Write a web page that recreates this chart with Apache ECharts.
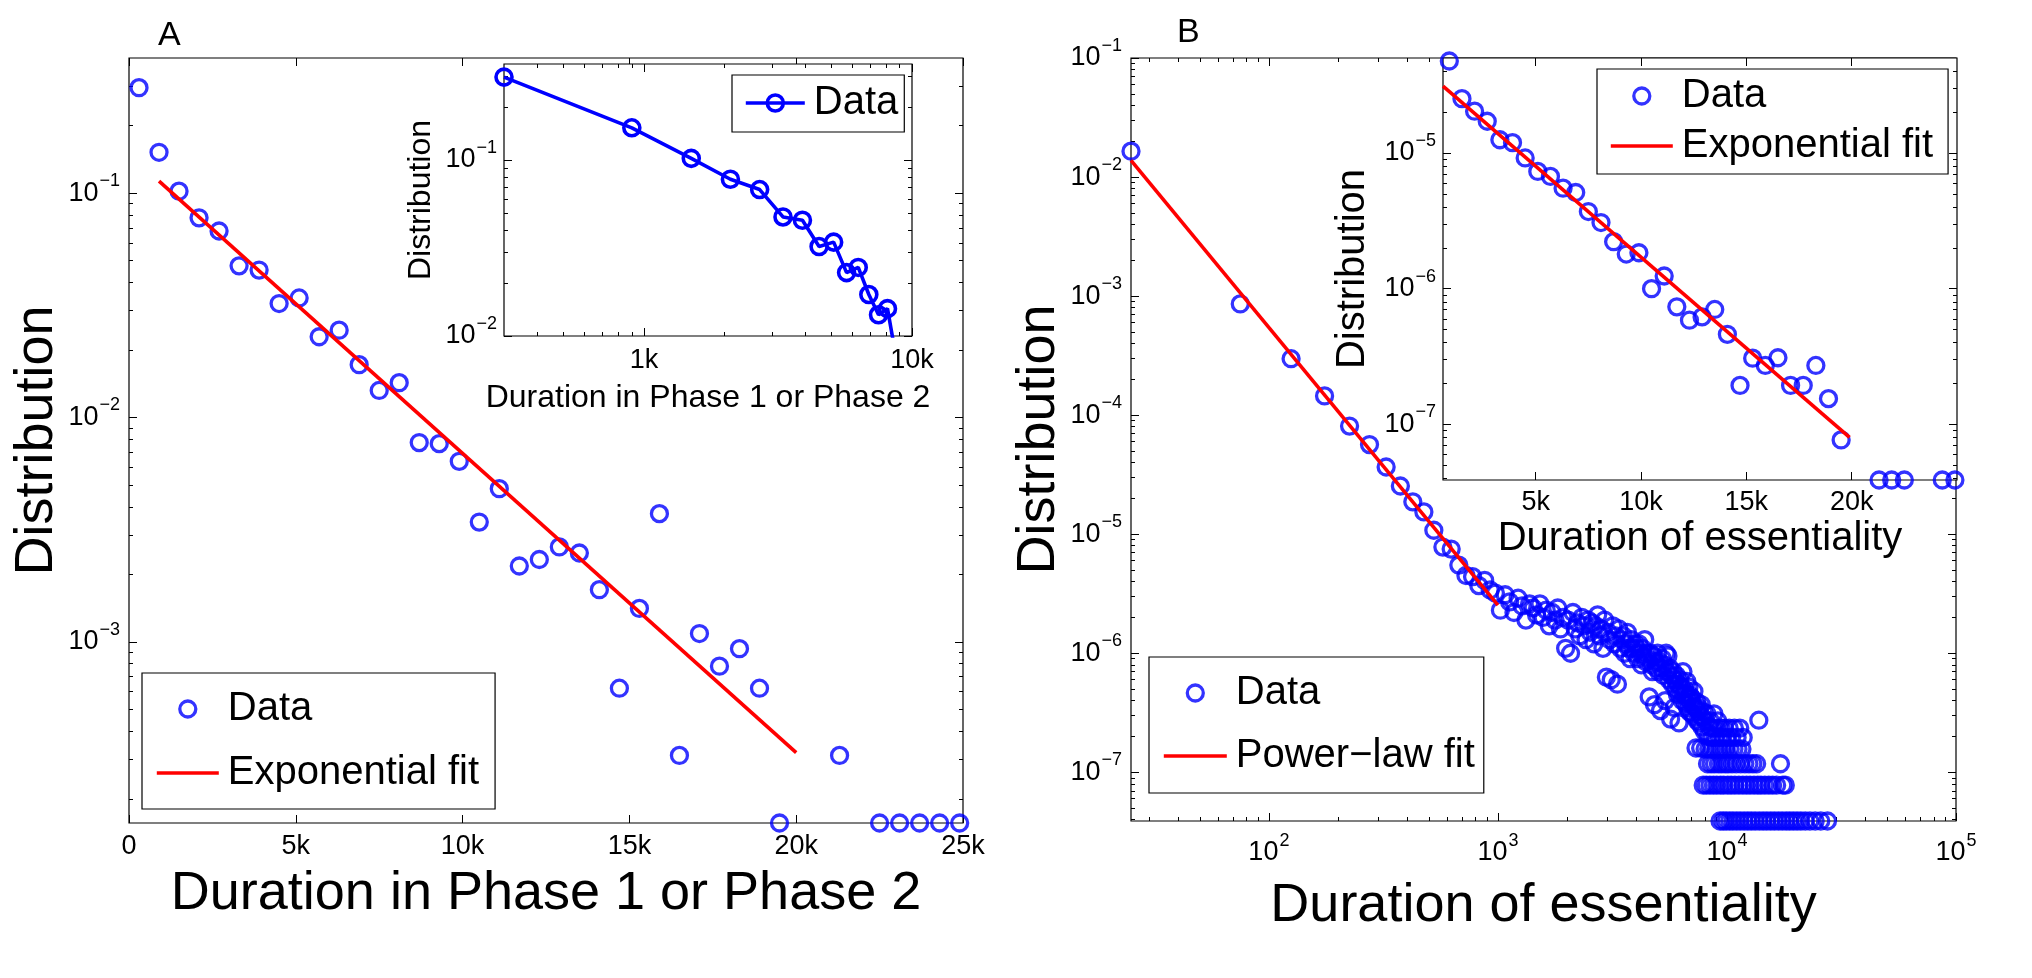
<!DOCTYPE html>
<html>
<head>
<meta charset="utf-8">
<title>Duration distributions</title>
<script src="https://cdn.jsdelivr.net/npm/echarts@6/dist/echarts.min.js"></script>
<style>
  html, body { margin: 0; padding: 0; background: #fff; }
  #chart { width: 2032px; height: 978px; }
</style>
</head>
<body>
<div id="chart"></div>
<script>
// ---- panel A: duration in Phase 1 or Phase 2 (bins of 600) ----
const aDuration = [300, 900, 1500, 2100, 2700, 3300, 3900, 4500, 5100, 5700,
  6300, 6900, 7500, 8100, 8700, 9300, 9900, 10500, 11100, 11700,
  12300, 12900, 13500, 14100, 14700, 15300, 15900, 16500, 17100, 17700,
  18300, 18900, 19500, 21300, 22500, 23100, 23700, 24300, 24900];
const aDist = [0.295, 0.152, 0.102, 0.0776, 0.0678, 0.0474, 0.0454, 0.0322, 0.0341, 0.0229,
  0.0245, 0.0172, 0.0132, 0.0143, 0.00773, 0.00765, 0.00638, 0.00342, 0.00482, 0.00218,
  0.00233, 0.00265, 0.00249, 0.00171, 0.000622, 0.00141, 0.00373, 0.000312, 0.00109, 0.00078,
  0.000933, 0.000622, 0.000156, 0.000312, 0.000156, 0.000156, 0.000156, 0.000156, 0.000156];
const aFitX = [900, 20000];
const aFitY = [0.113, 3.21e-4];

// ---- panel B: duration of essentiality (bins of 50, first bin centred on 25) ----
const bBinStart = 25;
const bBinWidth = 50;
// every bin from 25 to 7975 is filled
const bDist = [
  1.65e-2, 8.6e-4, 2.98e-4, 1.45e-4, 8.1e-5, 5.66e-5, 3.67e-5, 2.54e-5, 1.87e-5, 1.54e-5,
  1.08e-5, 7.8e-6, 7.5e-6, 5.5e-6, 4.5e-6, 4.4e-6, 3.7e-6, 4.1e-6, 3.4e-6, 3.2e-6,
  2.3e-6, 3.1e-6, 2.7e-6, 2.2e-6, 2.9e-6, 2.5e-6, 1.9e-6, 2.6e-6, 2.4e-6, 2.1e-6,
  2.6e-6, 2.0e-6, 2.3e-6, 1.7e-6, 2.2e-6, 1.9e-6, 2.4e-6, 1.6e-6, 2.0e-6, 1.1e-6,
  1.9e-6, 1.0e-6, 2.2e-6, 1.6e-6, 1.8e-6, 1.4e-6, 2.0e-6, 1.7e-6, 1.3e-6, 1.9e-6,
  1.5e-6, 1.8e-6, 1.2e-6, 1.7e-6, 2.1e-6, 1.4e-6, 1.6e-6, 1.1e-6, 1.9e-6, 6.3e-7,
  1.5e-6, 1.3e-6, 6.0e-7, 1.7e-6, 1.2e-6, 1.4e-6, 5.5e-7, 1.6e-6, 1.1e-6, 1.3e-6,
  1.4e-6, 1.0e-6, 1.2e-6, 1.5e-6, 1.1e-6, 9.0e-7, 1.3e-6, 1.1e-6, 1.0e-6, 1.2e-6,
  1.1e-6, 9.0e-7, 1.2e-6, 1.0e-6, 8.0e-7, 1.1e-6, 9.5e-7, 1.3e-6, 8.5e-7, 1.0e-6,
  9.0e-7, 4.3e-7, 1.0e-6, 8.0e-7, 7.0e-7, 9.5e-7, 3.7e-7, 8.5e-7, 7.5e-7, 1.0e-6,
  7.0e-7, 8.5e-7, 3.3e-7, 7.5e-7, 9.0e-7, 6.5e-7, 8.0e-7, 4.0e-7, 1.0e-6, 7.0e-7,
  9.5e-7, 6.0e-7, 7.5e-7, 2.8e-7, 6.5e-7, 5.5e-7, 7.0e-7, 3.5e-7, 6.0e-7, 5.0e-7,
  6.5e-7, 4.5e-7, 5.5e-7, 2.6e-7, 6.0e-7, 4.8e-7, 5.2e-7, 4.0e-7, 7.0e-7, 4.5e-7,
  5.0e-7, 3.8e-7, 4.6e-7, 5.8e-7, 3.5e-7, 4.2e-7, 5.2e-7, 3.2e-7, 4.4e-7, 3.9e-7,
  4.2e-7, 3.1e-7, 3.6e-7, 4.8e-7, 2.9e-7, 3.5e-7, 1.6e-7, 3.9e-7, 2.7e-7, 3.3e-7,
  3.5e-7, 2.6e-7, 3.0e-7, 1.6e-7, 3.7e-7, 2.4e-7, 2.9e-7, 7.8e-8, 3.2e-7, 2.2e-7];
// sparse tail above 8000
const bTailX = [8025, 8075, 8125, 8175, 8225, 8275, 8325, 8375, 8425, 8475,
  8525, 8575, 8625, 8675, 8725, 8775, 8825, 8875, 8925, 8975,
  9025, 9125, 9175, 9225, 9275, 9325, 9375, 9425, 9475, 9525,
  9575, 9625, 9675, 9775, 9825, 9875, 9925, 9975, 10075, 10125,
  10225, 10275, 10325, 10425, 10475, 10525, 10625, 10725, 10775, 10825,
  10975, 11025, 11075, 11175, 11275, 11375, 11425, 11475, 11625, 11725,
  11775, 11875, 11975, 12175, 12325, 12475, 12625, 12775, 12975, 13125,
  13275, 13475, 13625, 13775, 13825, 14075, 14375, 14625, 14925, 15225,
  15525, 15825, 16125, 16475, 16775, 17125, 17425, 17525, 17975, 18125,
  18775, 19475, 20225, 21025, 21975, 23025, 24275, 25675, 27475];
const bTailY = [1.57e-7, 2.7e-7, 7.8e-8, 3.1e-7, 1.18e-7, 2.0e-7, 1.57e-7, 2.4e-7, 7.8e-8, 2.7e-7,
  1.18e-7, 1.96e-7, 1.57e-7, 2.35e-7, 7.8e-8, 3.1e-7, 1.18e-7, 1.96e-7, 1.57e-7, 2.35e-7,
  7.8e-8, 2.7e-7, 1.18e-7, 1.57e-7, 1.96e-7, 3.9e-8, 7.8e-8, 2.35e-7, 1.18e-7, 1.57e-7,
  1.96e-7, 3.9e-8, 7.8e-8, 2.35e-7, 1.18e-7, 1.57e-7, 3.9e-8, 1.96e-7, 7.8e-8, 1.18e-7,
  2.35e-7, 3.9e-8, 1.57e-7, 7.8e-8, 1.96e-7, 1.18e-7, 3.9e-8, 1.57e-7, 2.35e-7, 7.8e-8,
  1.18e-7, 3.9e-8, 1.96e-7, 1.57e-7, 7.8e-8, 2.35e-7, 3.9e-8, 1.18e-7, 1.57e-7, 7.8e-8,
  1.96e-7, 3.9e-8, 1.18e-7, 7.8e-8, 3.9e-8, 1.18e-7, 7.8e-8, 3.9e-8, 1.18e-7, 7.8e-8,
  3.9e-8, 1.18e-7, 7.8e-8, 2.74e-7, 3.9e-8, 7.8e-8, 3.9e-8, 7.8e-8, 3.9e-8, 7.8e-8,
  3.9e-8, 7.8e-8, 3.9e-8, 7.8e-8, 3.9e-8, 1.18e-7, 3.9e-8, 7.8e-8, 7.8e-8, 3.9e-8,
  3.9e-8, 3.9e-8, 3.9e-8, 3.9e-8, 3.9e-8, 3.9e-8, 3.9e-8, 3.9e-8, 3.9e-8];
const bFitX = [25, 1000];
const bFitY = [1.38e-2, 2.54e-6];

// inset of B: same durations, bins of 600
const bInsetX = [900, 1500, 2100, 2700, 3300, 3900, 4500, 5100, 5700, 6300,
  6900, 7500, 8100, 8700, 9300, 9900, 10500, 11100, 11700, 12300,
  12900, 13500, 14100, 14700, 15300, 15900, 16500, 17100, 17700, 18300,
  18900, 19500, 21300, 21900, 22500, 24300, 24900];
const bInsetY = [4.75e-5, 2.51e-5, 2.03e-5, 1.71e-5, 1.25e-5, 1.19e-5, 9.18e-6, 7.31e-6, 6.71e-6, 5.5e-6,
  5.11e-6, 3.7e-6, 3.07e-6, 2.22e-6, 1.8e-6, 1.84e-6, 1.0e-6, 1.24e-6, 7.35e-7, 5.86e-7,
  6.2e-7, 7.03e-7, 4.61e-7, 1.94e-7, 3.08e-7, 2.72e-7, 3.1e-7, 1.94e-7, 1.94e-7, 2.72e-7,
  1.55e-7, 7.7e-8, 3.9e-8, 3.9e-8, 3.9e-8, 3.9e-8, 3.9e-8];
const bInsetFitX = [600, 19900];
const bInsetFitY = [3.1e-5, 8.04e-8];

// tick label positions
const aTicksX = [0, 5000, 10000, 15000, 20000, 25000];
const aTicksY = [1e-3, 1e-2, 1e-1];
const aInsetTicksX = [1000, 10000];
const aInsetTicksY = [1e-2, 1e-1];
const bTicksX = [1e2, 1e3, 1e4, 1e5];
const bTicksY = [1e-7, 1e-6, 1e-5, 1e-4, 1e-3, 1e-2, 1e-1];
const bInsetTicksX = [5000, 10000, 15000, 20000];
const bInsetTicksY = [1e-7, 1e-6, 1e-5];

const FONT = "'Liberation Sans', Arial, Helvetica, sans-serif";
const BLUE = '#0000ff';
const RED = '#ff0000';

const RICH = {
  b: { fontSize: 27, lineHeight: 42, fontFamily: FONT, color: '#000', verticalAlign: 'middle' },
  s: { fontSize: 18, lineHeight: 18, fontFamily: FONT, color: '#000', verticalAlign: 'top', padding: [0, 0, 24, 1] }
};

function powLabel(v) {
  const e = Math.round(Math.log10(v));
  return '{b|10}{s|' + (e < 0 ? '\u2212' + (-e) : e) + '}';
}
function kLabel(v) {
  return v === 0 ? '0' : (v / 1000) + 'k';
}
function minorLog(lo, hi) {
  const out = [];
  for (let e = Math.floor(Math.log10(lo)); e < Math.ceil(Math.log10(hi)); e++) {
    for (let k = 2; k <= 9; k++) {
      const v = k * Math.pow(10, e);
      if (v > lo && v < hi) out.push(v);
    }
  }
  return out;
}
function pairs(xs, ys) {
  return xs.map((x, i) => [x, ys[i]]);
}

const xAxes = [];
const yAxes = [];

// one box of axes: labelled axis + mirrored ticks on the opposite side (+ log minor ticks)
function frame(list, dim, grid, type, min, max, ticks, o) {
  const sides = dim === 'x' ? ['bottom', 'top'] : ['left', 'right'];
  const minors = type === 'log' ? minorLog(min, max) : null;
  const first = list.length;
  sides.forEach((side, s) => {
    const sets = minors ? [[ticks, 8], [minors, 4]] : [[ticks, 8]];
    sets.forEach(([vals, len], m) => {
      const main = s === 0 && m === 0;
      list.push({
        type: type, gridIndex: grid, position: side, min: min, max: max, z: o.z,
        axisLine: { show: false, onZero: false },
        splitLine: { show: false },
        axisTick: { show: true, inside: true, length: len, customValues: vals,
          lineStyle: { color: '#000', width: 1 } },
        axisLabel: main ? {
          show: true, customValues: vals, formatter: o.formatter, margin: o.margin,
          color: '#000', fontFamily: FONT, fontSize: 27, lineHeight: 30, rich: RICH
        } : { show: false },
        name: main ? o.name : '',
        nameLocation: 'middle',
        nameGap: o.nameGap,
        nameTextStyle: { fontFamily: FONT, fontSize: o.nameSize, color: '#000' }
      });
    });
  });
  return first;
}

const xA = frame(xAxes, 'x', 0, 'value', 0, 25000, aTicksX,
  { formatter: kLabel, margin: 9, name: 'Duration in Phase 1 or Phase 2', nameGap: 34, nameSize: 54, z: 1 });
const yA = frame(yAxes, 'y', 0, 'log', 1.56e-4, 0.4, aTicksY,
  { formatter: powLabel, margin: 9, name: 'Distribution', nameGap: 60, nameSize: 54, z: 1 });
const xAi = frame(xAxes, 'x', 1, 'log', 300, 10000, aInsetTicksX,
  { formatter: kLabel, margin: 10, name: 'Duration in Phase 1 or Phase 2', nameGap: 46, nameSize: 32, z: 7 });
const yAi = frame(yAxes, 'y', 1, 'log', 0.01, 0.35, aInsetTicksY,
  { formatter: powLabel, margin: 7, name: 'Distribution', nameGap: 67, nameSize: 32, z: 7 });
const xB = frame(xAxes, 'x', 2, 'log', 25, 1e5, bTicksX,
  { formatter: powLabel, margin: 11, name: 'Duration of essentiality', nameGap: 50, nameSize: 54, z: 1 });
const yB = frame(yAxes, 'y', 2, 'log', 3.9e-8, 0.1, bTicksY,
  { formatter: powLabel, margin: 9, name: 'Distribution', nameGap: 49, nameSize: 54, z: 1 });
const xBi = frame(xAxes, 'x', 3, 'value', 600, 25000, bInsetTicksX,
  { formatter: kLabel, margin: 8, name: 'Duration of essentiality', nameGap: 37, nameSize: 40, z: 7 });
const yBi = frame(yAxes, 'y', 3, 'log', 3.9e-8, 5e-5, bInsetTicksY,
  { formatter: powLabel, margin: 7, name: 'Distribution', nameGap: 70, nameSize: 40, z: 7 });

const grids = [
  { left: 129, top: 58, width: 834, height: 765, z: 0 },
  { left: 504, top: 64, width: 408, height: 272, z: 6 },
  { left: 1131, top: 58, width: 825, height: 763, z: 0 },
  { left: 1443, top: 58, width: 514, height: 422, z: 6 }
].map(g => Object.assign({ show: true, backgroundColor: '#fff', borderColor: '#000', borderWidth: 1.2 }, g));

const ring = { color: 'rgba(0,0,0,0)', borderColor: BLUE, borderWidth: 3.3 };

function scatter(name, x, y, data, z) {
  return { name: name, type: 'scatter', xAxisIndex: x, yAxisIndex: y, data: data, z: z,
    symbol: 'circle', symbolSize: 16, itemStyle: ring, clip: false, silent: true };
}
function fit(name, x, y, data, z) {
  return { name: name, type: 'line', xAxisIndex: x, yAxisIndex: y, data: data, z: z,
    symbol: 'none', lineStyle: { color: RED, width: 3.6 }, itemStyle: { color: RED }, silent: true };
}

const series = [
  scatter('Data|A', xA, yA, pairs(aDuration, aDist), 2),
  fit('Exponential fit|A', xA, yA, pairs(aFitX, aFitY), 3),
  {
    name: 'Data|Ai', type: 'line', xAxisIndex: xAi, yAxisIndex: yAi, z: 8,
    data: pairs(aDuration, aDist), clip: true, silent: true,
    symbol: 'circle', symbolSize: 16, showSymbol: true,
    itemStyle: { color: 'rgba(0,0,0,0)', borderColor: BLUE, borderWidth: 3.6 },
    lineStyle: { color: BLUE, width: 3.6 }
  },
  scatter('Data|B', xB, yB,
    bDist.map((v, i) => [bBinStart + bBinWidth * i, v]).concat(pairs(bTailX, bTailY)), 2),
  fit('Power\u2212law fit|B', xB, yB, pairs(bFitX, bFitY), 3),
  scatter('Data|Bi', xBi, yBi, pairs(bInsetX, bInsetY), 8),
  fit('Exponential fit|Bi', xBi, yBi, pairs(bInsetFitX, bInsetFitY), 9)
];

const hideSym = { color: 'rgba(0,0,0,0)', borderWidth: 0 };
const fitLine = { color: RED, width: 3.6 };

function legend(items, pos, z) {
  return Object.assign({
    orient: 'vertical', align: 'left', selectedMode: false, z: z,
    backgroundColor: '#fff', borderColor: '#000', borderWidth: 1.2, borderRadius: 0,
    itemHeight: 16,
    formatter: name => name.split('|')[0],
    textStyle: { fontFamily: FONT, fontSize: 40, lineHeight: 40, color: '#000', padding: [0, 0, 0, 4] },
    data: items
  }, pos);
}

const option = {
  animation: false,
  backgroundColor: '#fff',
  textStyle: { fontFamily: FONT },
  // panel letters
  graphic: [
    { type: 'text', left: 158, top: 19, z: 20,
      style: { text: 'A', font: '34px ' + FONT, fill: '#000' } },
    { type: 'text', left: 1177, top: 16, z: 20,
      style: { text: 'B', font: '34px ' + FONT, fill: '#000' } }
  ],
  grid: grids,
  xAxis: xAxes,
  yAxis: yAxes,
  legend: [
    legend([
      { name: 'Data|A', icon: 'circle', itemStyle: ring },
      { name: 'Exponential fit|A', itemStyle: hideSym, lineStyle: fitLine }
    ], { left: 142, top: 673, itemWidth: 62, itemGap: 24, padding: [16, 16, 16, 13] }, 5),
    legend([
      { name: 'Data|Ai', itemStyle: { color: 'rgba(0,0,0,0)', borderColor: BLUE, borderWidth: 3.6 },
        lineStyle: { color: BLUE, width: 3.6 } }
    ], { left: 732, top: 75, itemWidth: 59, itemHeight: 20, padding: [8, 6, 9, 12] }, 10),
    legend([
      { name: 'Data|B', icon: 'circle', itemStyle: ring },
      { name: 'Power\u2212law fit|B', itemStyle: hideSym, lineStyle: fitLine }
    ], { left: 1149, top: 657, itemWidth: 63, itemGap: 23, padding: [16, 9, 17, 13] }, 5),
    legend([
      { name: 'Data|Bi', icon: 'circle', itemStyle: ring },
      { name: 'Exponential fit|Bi', itemStyle: hideSym, lineStyle: fitLine }
    ], { left: 1597, top: 69, itemWidth: 62, itemGap: 10, padding: [7, 15, 8, 12] }, 10)
  ],
  series: series
};

const chart = echarts.init(document.getElementById('chart'), null, { renderer: 'canvas' });
chart.setOption(option);
</script>
</body>
</html>
